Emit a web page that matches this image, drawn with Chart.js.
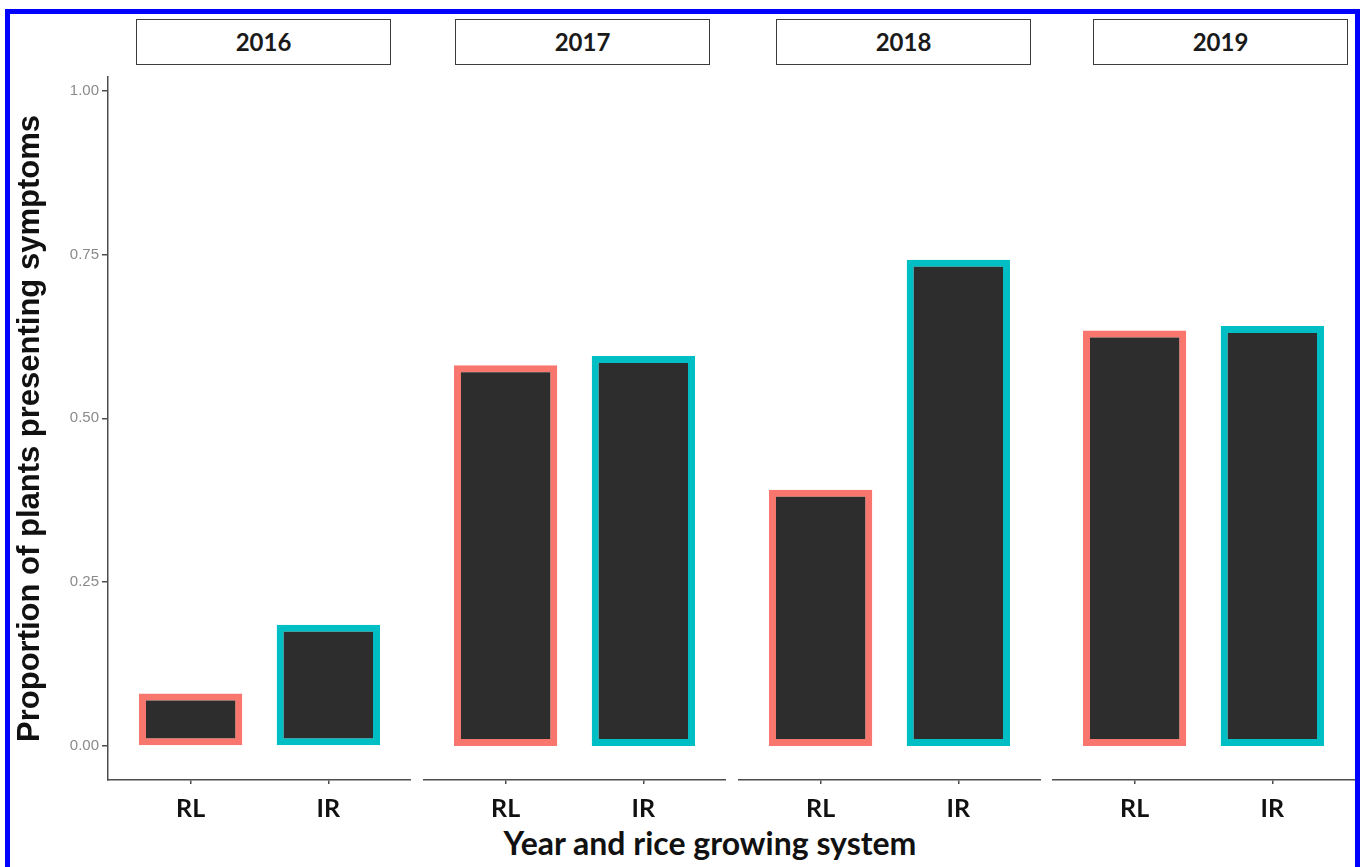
<!DOCTYPE html>
<html>
<head>
<meta charset="utf-8">
<script src="https://cdn.jsdelivr.net/npm/chart.js@4/dist/chart.umd.min.js"></script>
<style>
  html, body { margin: 0; padding: 0; background: #ffffff; }
  body { width: 1360px; height: 867px; position: relative; overflow: hidden; }
  .panel { position: absolute; top: 0; }
  .strip {
    position: absolute; box-sizing: border-box; height: 46px; top: 19px;
    border: 1.5px solid #3c3c3c; background: #fff;
    font-family: Lato, "Open Sans", sans-serif; font-weight: bold; font-size: 24px;
    color: #1a1a1a; text-align: center; line-height: 43px;
  }
  #xtitle {
    position: absolute; left: 410px; width: 600px; top: 825px; text-align: center;
    font-family: Lato, "Open Sans", sans-serif; font-weight: bold; font-size: 32px;
    line-height: 36px; color: #111;
  }
  #frame {
    position: absolute; left: 5px; top: 9px; width: 1345px; height: 900px;
    border: 5px solid #0000ff; pointer-events: none; z-index: 10;
  }
</style>
</head>
<body>
<div id="frame"></div>
<div id="xtitle"></div>
<script>
// ---- data ----
const years = ['2016', '2017', '2018', '2019'];
const systems = ['RL', 'IR'];
const rlValues = [0.080, 0.581, 0.391, 0.634];
const irValues = [0.185, 0.595, 0.742, 0.641];
const yTickValues = [0, 0.25, 0.5, 0.75, 1];
const systemColors = ['#F8766D', '#00BFC4'];
const yTitle = 'Proportion of plants presenting symptoms';
const xTitle = 'Year and rice growing system';

// ---- layout ----
const panelLeft = [0, 423, 738, 1052];
const panelWidth = [411, 303, 303, 303];
const stripLeft = [136, 455, 776, 1093];
const stripWidth = 255;
const H = 867;

document.getElementById('xtitle').textContent = xTitle;

years.forEach((yr, i) => {
  const first = i === 0;
  const wrap = document.createElement('div');
  wrap.className = 'panel';
  wrap.style.left = panelLeft[i] + 'px';
  const cv = document.createElement('canvas');
  cv.width = panelWidth[i];
  cv.height = H;
  cv.style.width = panelWidth[i] + 'px';
  cv.style.height = H + 'px';
  wrap.appendChild(cv);
  document.body.appendChild(wrap);

  const strip = document.createElement('div');
  strip.className = 'strip';
  strip.style.left = stripLeft[i] + 'px';
  strip.style.width = stripWidth + 'px';
  strip.textContent = yr;
  document.body.appendChild(strip);

  const vals = [rlValues[i], irValues[i]];
  new Chart(cv.getContext('2d'), {
    type: 'bar',
    data: {
      datasets: [{
        data: systems.map((s, j) => ({ x: j + 1, y: vals[j] })),
        backgroundColor: '#2d2d2d',
        borderColor: systemColors,
        borderWidth: 7,
        borderSkipped: false,
        categoryPercentage: 1,
        barPercentage: 0.75
      }]
    },
    options: {
      responsive: false,
      animation: false,
      devicePixelRatio: 1,
      layout: { padding: { top: 77, left: 0, right: 0, bottom: 0 } },
      plugins: { legend: { display: false }, tooltip: { enabled: false } },
      scales: {
        x: {
          type: 'linear',
          offset: false,
          min: 0.4,
          max: 2.6,
          afterBuildTicks: (s) => { s.ticks = systems.map((_, j) => ({ value: j + 1 })); },
          afterFit: (s) => { s.height = 87; },
          ticks: {
            callback: (v) => systems[Math.round(v) - 1],
            font: { family: 'Lato', weight: 'bold', size: 25 },
            color: '#111',
            padding: 10,
            maxRotation: 0,
            autoSkip: false
          },
          grid: { offset: false, drawOnChartArea: false, tickLength: 4, color: '#4d4d4d', lineWidth: 1.5 },
          border: { display: true, color: '#4d4d4d', width: 1.5 }
        },
        y: {
          display: first,
          min: -0.052,
          max: 1.021,
          afterBuildTicks: (s) => { s.ticks = yTickValues.map(v => ({ value: v })); },
          afterFit: (s) => { s.width = first ? 108 : 0; },
          ticks: {
            callback: (v) => Number(v).toFixed(2),
            font: { family: "'Liberation Sans', Arial", size: 15 },
            color: '#8a8a8a',
            padding: 3
          },
          grid: { offset: false, drawOnChartArea: false, tickLength: 6, color: '#4d4d4d', lineWidth: 1.5 },
          border: { display: true, color: '#4d4d4d', width: 1.5 },
          title: {
            display: true,
            text: yTitle,
            font: { family: "'Liberation Sans', Arial", weight: 'bold', size: 31 },
            color: '#111',
            padding: { top: 12, bottom: 0 }
          }
        }
      }
    }
  });
});
</script>
</body>
</html>
